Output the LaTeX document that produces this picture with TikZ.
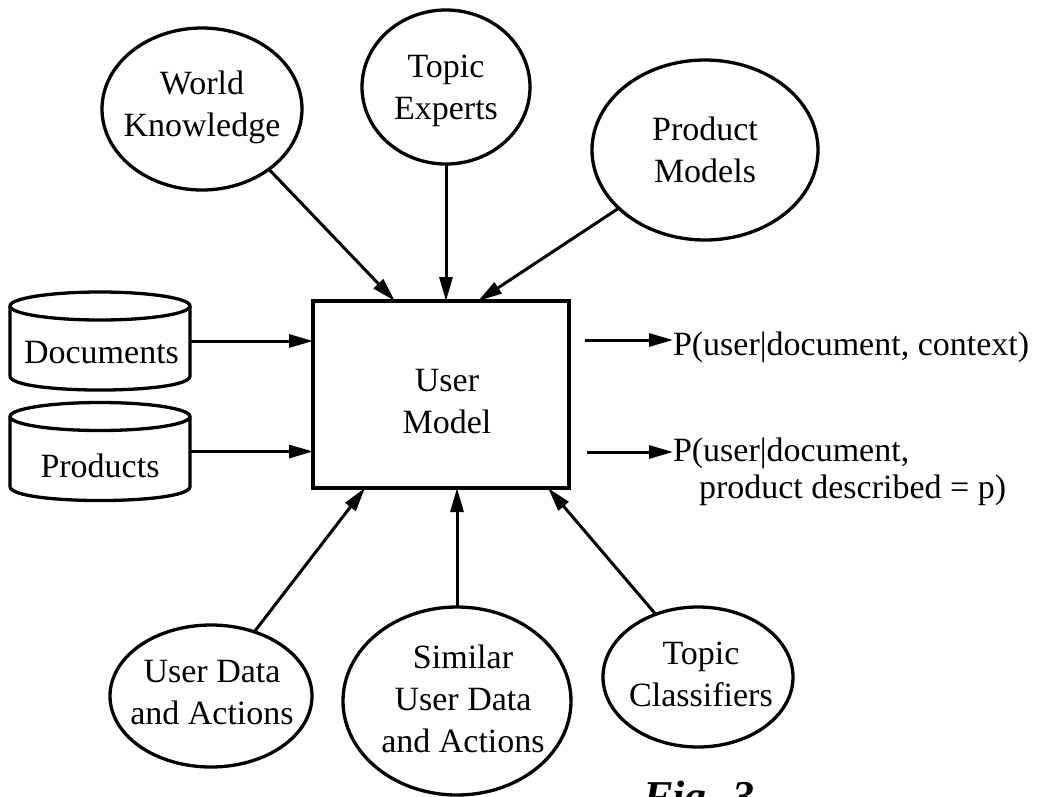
\documentclass[tikz,border=0pt]{standalone}
\usepackage{fontspec}
\setmainfont{Liberation Serif}
\usetikzlibrary{shapes.geometric,arrows.meta,calc}
\begin{document}
\begin{tikzpicture}[x=1pt,y=-1pt,
  every node/.style={inner sep=0pt, outer sep=0pt},
  shp/.style={draw, line width=3.3pt},
  ell/.style={shp, ellipse},
  txt/.style={align=center, font=\fontsize{34}{42}\selectfont},
  arr/.style={line width=3pt, -{Triangle[length=24pt,width=13pt]}},
  cylbody/.style={minimum width=180pt, minimum height=70pt},
]
\useasboundingbox (0,0) rectangle (1039,796);

% central box
\node[shp, minimum width=256pt, minimum height=187pt] (um) at (441,394.5) {};
\node[txt] (umt) at (447,401.5) {User\\Model};

% top ellipses
\node[ell, minimum width=200pt, minimum height=162pt] (wk) at (202,109) {};
\node[txt] (wkt) at (202,107) {World\\Knowledge};
\node[ell, minimum width=168pt, minimum height=154pt] (te) at (446,87) {};
\node[txt] (tet) at (446,91) {Topic\\Experts};
\node[ell, minimum width=226pt, minimum height=180pt] (pm) at (705,150) {};
\node[txt] (pmt) at (705,149.5) {Product\\Models};

% bottom ellipses
\node[ell, minimum width=202pt, minimum height=142pt] (uda) at (211,696) {};
\node[txt] (udat) at (212,692.5) {User Data\\and Actions};
\node[ell, minimum width=228pt, minimum height=188pt] (suda) at (457,701) {};
\node[txt] (sudat) at (463,698.5) {Similar\\User Data\\and Actions};
\node[ell, minimum width=190pt, minimum height=140pt] (tc) at (698,677) {};
\node[txt] (tct) at (701,674) {Topic\\Classifiers};

% cylinders
\node[cylbody] (docs) at (100,341) {};
\draw[line width=3.3pt] (docs.north) ellipse [x radius=90pt, y radius=14pt];
\draw[line width=3.3pt] (docs.north west) -- (docs.south west)
  .. controls ($(docs.south west)+(0,18.7)$) and ($(docs.south east)+(0,18.7)$) .. (docs.south east)
  -- (docs.north east);
\node[txt, anchor=base] (docst) at (101.5,363) {Documents};

\node[cylbody] (prods) at (100,451.5) {};
\draw[line width=3.3pt] (prods.north) ellipse [x radius=90pt, y radius=14pt];
\draw[line width=3.3pt] (prods.north west) -- (prods.south west)
  .. controls ($(prods.south west)+(0,18.7)$) and ($(prods.south east)+(0,18.7)$) .. (prods.south east)
  -- (prods.north east);
\node[txt, anchor=base] (prodst) at (100,477) {Products};

% outputs
\node[txt, anchor=base west] (out1) at (673,355) {P(user|document, context)};
\node[txt, anchor=base west] (out2a) at (673,461) {P(user|document,};
\node[txt, anchor=base west] (out2b) at (699,498) {product described = p)};
\coordinate (o1) at (585,340);
\coordinate (o2) at (587,452);

% figure caption (cut by the page edge, as in the reference)
\node[font=\fontsize{44}{50}\selectfont\bfseries\itshape, anchor=base west] (fig) at (643,811) {Fig. 3};

% connectors
\draw[arr] (wk.-42) -- ($(um.north west)!0.32!(um.north east)$);
\draw[arr] (te.south) -- (te.south |- um.north);
\draw[arr] (pm.-146) -- ($(um.north west)!0.645!(um.north east)$);
\draw[arr] (docs.east) -- (docs.east -| um.west);
\draw[arr] (prods.east) -- (prods.east -| um.west);
\draw[arr] (uda.56) -- ($(um.south west)!0.203!(um.south east)$);
\draw[arr] (suda.north) -- (suda.north |- um.south);
\draw[arr] (tc.124) -- ($(um.south west)!0.918!(um.south east)$);
\draw[arr] (o1) -- (o1 -| out1.west);
\draw[arr] (o2) -- (o2 -| out2a.west);
\end{tikzpicture}
\end{document}
